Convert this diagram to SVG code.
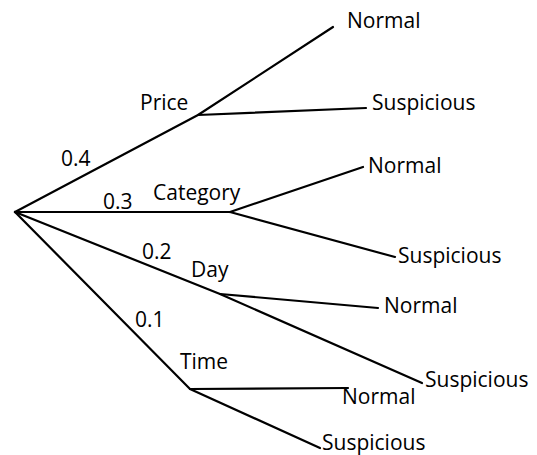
<svg xmlns="http://www.w3.org/2000/svg" width="537" height="455" viewBox="0 0 537 455">
<style>
.l{fill:none;stroke:#000;stroke-width:2.2;stroke-linecap:round;stroke-linejoin:round}
text{font-family:"Open Sans","DejaVu Sans",sans-serif;font-size:21px;fill:#000}
</style>
<rect width="537" height="455" fill="#fff"/>
<g id="connectors">
<polyline class="l" points="15,212 198,115 333,27"/>
<line class="l" x1="198" y1="115" x2="366" y2="108"/>
<line class="l" x1="15" y1="212" x2="230" y2="212"/>
<line class="l" x1="230" y1="212" x2="363" y2="167"/>
<line class="l" x1="230" y1="212" x2="395" y2="257"/>
<polyline class="l" points="15,212 220,294 422,383"/>
<line class="l" x1="220" y1="294" x2="378" y2="308"/>
<polyline class="l" points="15,212 190,389 320,448"/>
<line class="l" x1="190" y1="389" x2="348" y2="388"/>
</g>
<g id="w-price"><text x="61" y="166">0.4</text></g>
<g id="w-category"><text x="103" y="209">0.3</text></g>
<g id="w-day"><text x="142" y="259">0.2</text></g>
<g id="w-time"><text x="135" y="327">0.1</text></g>
<g id="price"><text x="140" y="110">Price</text></g>
<g id="category"><text x="153" y="200">Category</text></g>
<g id="day"><text x="191" y="277">Day</text></g>
<g id="time"><text x="180" y="369">Time</text></g>
<g id="price-normal"><text x="347" y="28">Normal</text></g>
<g id="price-suspicious"><text x="372" y="110">Suspicious</text></g>
<g id="category-normal"><text x="368" y="173">Normal</text></g>
<g id="category-suspicious"><text x="398" y="263">Suspicious</text></g>
<g id="day-normal"><text x="384" y="313">Normal</text></g>
<g id="day-suspicious"><text x="425" y="387">Suspicious</text></g>
<g id="time-normal"><text x="342" y="404">Normal</text></g>
<g id="time-suspicious"><text x="322" y="450">Suspicious</text></g>
</svg>
